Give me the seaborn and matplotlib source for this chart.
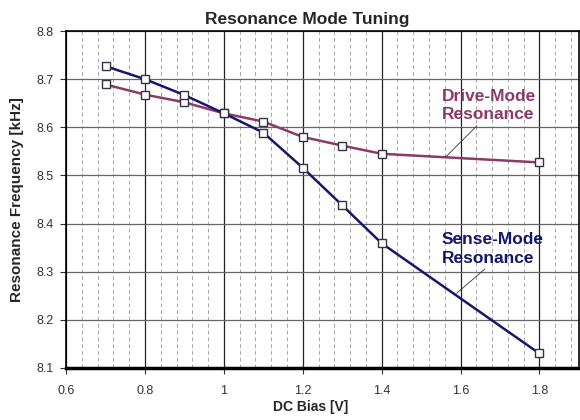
import matplotlib
matplotlib.use("Agg")
import matplotlib.pyplot as plt
import seaborn as sns
import pandas as pd
import numpy as np

bias = [0.7, 0.8, 0.9, 1.0, 1.1, 1.2, 1.3, 1.4, 1.8]
drive = [8.689, 8.668, 8.652, 8.629, 8.612, 8.580, 8.562, 8.545, 8.527]
sense = [8.727, 8.700, 8.667, 8.629, 8.589, 8.516, 8.438, 8.359, 8.130]
x_ticks = [0.6, 0.8, 1.0, 1.2, 1.4, 1.6, 1.8]
x_tick_labels = ["0.6", "0.8", "1", "1.2", "1.4", "1.6", "1.8"]
y_ticks = [8.1, 8.2, 8.3, 8.4, 8.5, 8.6, 8.7, 8.8]

drive_color = "#8c3a68"
sense_color = "#16166c"

sns.set_theme(style="white")
plt.rcParams['font.family'] = ['Liberation Sans', 'DejaVu Sans']

df = pd.DataFrame({"bias": bias * 2,
                   "freq": drive + sense,
                   "mode": ["Drive"] * len(bias) + ["Sense"] * len(bias)})

fig = plt.figure(figsize=(5.8, 4.2), dpi=100)
ax = fig.add_axes([0.114, 0.124, 0.884, 0.802])

# grid
minor = np.arange(0.6, 1.9001, 0.04)
for v in minor:
    if not np.any(np.isclose(v, x_ticks)):
        ax.axvline(v, color="#a8a8a8", lw=0.7, ls=(0, (4, 3)), zorder=0)
for v in x_ticks:
    ax.axvline(v, color="#222222", lw=0.9, zorder=0)
for v in y_ticks:
    ax.axhline(v, color="#666666", lw=0.9, zorder=0)

sns.lineplot(data=df, x="bias", y="freq", hue="mode",
             palette={"Drive": drive_color, "Sense": sense_color},
             marker="s", markersize=5.5, markerfacecolor="white",
             markeredgewidth=1.0, linewidth=1.8, ax=ax, legend=False,
             zorder=3)
for line in ax.get_lines()[-2:]:
    line.set_markeredgecolor("#333344")

ax.set_xlim(0.6, 1.9)
ax.set_ylim(8.1, 8.8)
ax.set_xticks(x_ticks)
ax.set_xticklabels(x_tick_labels)
ax.set_yticks(y_ticks)
ax.set_yticklabels([f"{v:.1f}" for v in y_ticks])
ax.tick_params(axis="both", labelsize=9, colors="#333333", length=4,
               direction="out", width=0.8)
ax.tick_params(axis="x", pad=8)
ax.tick_params(axis="y", pad=5)
ax.xaxis.set_ticks_position("bottom")
ax.yaxis.set_ticks_position("left")

for s in ["left", "top", "right"]:
    ax.spines[s].set_color("black")
    ax.spines[s].set_linewidth(1.2)
ax.spines["bottom"].set_color("black")
ax.spines["bottom"].set_linewidth(2.5)

ax.set_xlabel("DC Bias [V]", fontsize=10, fontweight="bold", labelpad=6)
ax.xaxis.set_label_coords(0.476, -0.095)
ax.set_ylabel("Resonance Frequency [kHz]", fontsize=11, fontweight="bold", labelpad=9)
ax.set_title("Resonance Mode Tuning", fontsize=12.5, fontweight="bold", x=0.47, pad=5)

ax.annotate("Drive-Mode\nResonance", xy=(1.562, 8.538), xytext=(1.552, 8.645),
            fontsize=12.5, fontweight="bold", color=drive_color, ha="left", va="center",
            multialignment="left", linespacing=1.3,
            arrowprops=dict(arrowstyle="-", color="#333333", lw=0.6,
                            shrinkA=0, shrinkB=0, relpos=(0.41, 0.0)))
ax.annotate("Sense-Mode\nResonance", xy=(1.590, 8.255), xytext=(1.552, 8.347),
            fontsize=12.5, fontweight="bold", color=sense_color, ha="left", va="center",
            multialignment="left", linespacing=1.3,
            arrowprops=dict(arrowstyle="-", color="#333333", lw=0.6,
                            shrinkA=0, shrinkB=0, relpos=(0.46, 0.0)))

fig.savefig("out.png", dpi=100)
